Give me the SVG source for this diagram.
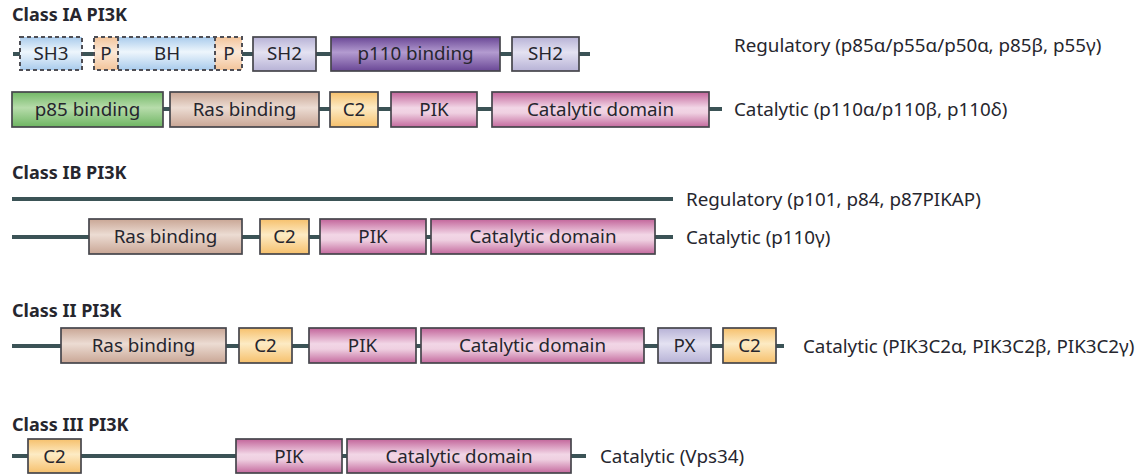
<svg xmlns="http://www.w3.org/2000/svg" width="1144" height="474" viewBox="0 0 1144 474">
<defs>
<linearGradient id="gPink" x1="0" y1="0" x2="0" y2="1"><stop offset="0" stop-color="#c2649a"/><stop offset="0.45" stop-color="#f2d6e6"/><stop offset="0.6" stop-color="#efd0e1"/><stop offset="1" stop-color="#c46a9e"/></linearGradient>
<linearGradient id="gTan" x1="0" y1="0" x2="0" y2="1"><stop offset="0" stop-color="#c9a695"/><stop offset="0.45" stop-color="#ecdcd3"/><stop offset="1" stop-color="#c9a695"/></linearGradient>
<linearGradient id="gGreen" x1="0" y1="0" x2="0" y2="1"><stop offset="0" stop-color="#72b866"/><stop offset="0.45" stop-color="#b7dcab"/><stop offset="1" stop-color="#6eb562"/></linearGradient>
<linearGradient id="gPurple" x1="0" y1="0" x2="0" y2="1"><stop offset="0" stop-color="#6a4796"/><stop offset="0.45" stop-color="#b39bd0"/><stop offset="1" stop-color="#6a4796"/></linearGradient>
<linearGradient id="gLav" x1="0" y1="0" x2="0" y2="1"><stop offset="0" stop-color="#b7b2d6"/><stop offset="0.45" stop-color="#e4e2f2"/><stop offset="1" stop-color="#b7b2d6"/></linearGradient>
<linearGradient id="gYel" x1="0" y1="0" x2="0" y2="1"><stop offset="0" stop-color="#f6c06c"/><stop offset="0.45" stop-color="#fdebc4"/><stop offset="1" stop-color="#f6c06c"/></linearGradient>
<linearGradient id="gBlue" x1="0" y1="0" x2="0" y2="1"><stop offset="0" stop-color="#a9cbec"/><stop offset="0.45" stop-color="#eef6fc"/><stop offset="1" stop-color="#a9cbec"/></linearGradient>
<linearGradient id="gOr" x1="0" y1="0" x2="0" y2="1"><stop offset="0" stop-color="#f2c49a"/><stop offset="0.45" stop-color="#fce9d8"/><stop offset="1" stop-color="#f2c49a"/></linearGradient>
</defs>
<style>
.bx{stroke:#46464c;stroke-width:1.7}
.dash{stroke:#4e4e55;stroke-width:2;stroke-dasharray:4 3}
.bb{stroke:#3b5356;stroke-width:4;fill:none}
.t{font-family:"Noto Sans","Liberation Sans",sans-serif;font-size:18.8px;fill:#26262e}
.c{text-anchor:middle}
.h{font-family:"Noto Sans","Liberation Sans",sans-serif;font-size:18px;font-weight:bold;fill:#26262e}
</style>
<rect width="1144" height="474" fill="#ffffff"/>
<g id="connectors">
<line class="bb" x1="13" y1="54" x2="590" y2="54"/>
<line class="bb" x1="12" y1="109" x2="722" y2="109"/>
<line class="bb" x1="12" y1="199" x2="673" y2="199"/>
<line class="bb" x1="12" y1="237" x2="673" y2="237"/>
<line class="bb" x1="12" y1="346" x2="784" y2="346"/>
<line class="bb" x1="12" y1="456" x2="586" y2="456"/>
</g>
<text class="h" x="12" y="21">Class IA PI3K</text>
<text class="h" x="12" y="179">Class IB PI3K</text>
<text class="h" x="12" y="317">Class II PI3K</text>
<text class="h" x="12" y="431">Class III PI3K</text>
<g id="ia-reg">
<g id="ia-sh3"><rect class="dash" x="20" y="37" width="62" height="33" fill="url(#gBlue)"/><text class="t c" x="51" y="60">SH3</text></g>
<g id="ia-p1"><rect x="94" y="37" width="24" height="33" fill="url(#gOr)"/></g>
<g id="ia-bh"><rect x="118" y="37" width="97" height="33" fill="url(#gBlue)"/><text class="t c" x="167" y="60">BH</text></g>
<g id="ia-p2"><rect x="215" y="37" width="27" height="33" fill="url(#gOr)"/></g>
<rect class="dash" x="94" y="37" width="148" height="33" fill="none"/>
<line class="dash" x1="118" y1="37" x2="118" y2="70"/>
<line class="dash" x1="215" y1="37" x2="215" y2="70"/>
<text class="t c" x="106" y="60">P</text>
<text class="t c" x="229" y="60">P</text>
<g id="ia-sh2a"><rect class="bx" x="253" y="37" width="63" height="34" fill="url(#gLav)"/><text class="t c" x="284.5" y="60">SH2</text></g>
<g id="ia-p110b"><rect class="bx" x="331" y="37" width="169" height="34" fill="url(#gPurple)"/><text class="t c" x="415.5" y="60">p110 binding</text></g>
<g id="ia-sh2b"><rect class="bx" x="512" y="37" width="67" height="34" fill="url(#gLav)"/><text class="t c" x="545.5" y="60">SH2</text></g>
<text class="t" x="734" y="52">Regulatory (p85α/p55α/p50α, p85β, p55γ)</text>
</g>
<g id="ia-cat">
<g id="ia-p85b"><rect class="bx" x="12" y="92" width="151" height="35" fill="url(#gGreen)"/><text class="t c" x="87.5" y="116">p85 binding</text></g>
<g id="ia-ras"><rect class="bx" x="170" y="92" width="149" height="35" fill="url(#gTan)"/><text class="t c" x="244.5" y="116">Ras binding</text></g>
<g id="ia-c2"><rect class="bx" x="330" y="92" width="48" height="35" fill="url(#gYel)"/><text class="t c" x="354" y="116">C2</text></g>
<g id="ia-pik"><rect class="bx" x="391" y="92" width="86" height="35" fill="url(#gPink)"/><text class="t c" x="434" y="116">PIK</text></g>
<g id="ia-catd"><rect class="bx" x="492" y="92" width="217" height="35" fill="url(#gPink)"/><text class="t c" x="600.5" y="116">Catalytic domain</text></g>
<text class="t" x="734" y="116">Catalytic (p110α/p110β, p110δ)</text>
</g>
<g id="ib">
<text class="t" x="686" y="206">Regulatory (p101, p84, p87PIKAP)</text>
<g id="ib-ras"><rect class="bx" x="89" y="219" width="153" height="35" fill="url(#gTan)"/><text class="t c" x="165.5" y="243">Ras binding</text></g>
<g id="ib-c2"><rect class="bx" x="260" y="219" width="49" height="35" fill="url(#gYel)"/><text class="t c" x="284.5" y="243">C2</text></g>
<g id="ib-pik"><rect class="bx" x="320" y="219" width="106" height="35" fill="url(#gPink)"/><text class="t c" x="373" y="243">PIK</text></g>
<g id="ib-catd"><rect class="bx" x="431" y="219" width="224" height="35" fill="url(#gPink)"/><text class="t c" x="543" y="243">Catalytic domain</text></g>
<text class="t" x="686" y="244">Catalytic (p110γ)</text>
</g>
<g id="ii">
<g id="ii-ras"><rect class="bx" x="61" y="328" width="165" height="35" fill="url(#gTan)"/><text class="t c" x="143.5" y="352">Ras binding</text></g>
<g id="ii-c2a"><rect class="bx" x="239" y="328" width="53" height="35" fill="url(#gYel)"/><text class="t c" x="265.5" y="352">C2</text></g>
<g id="ii-pik"><rect class="bx" x="309" y="328" width="107" height="35" fill="url(#gPink)"/><text class="t c" x="362.5" y="352">PIK</text></g>
<g id="ii-catd"><rect class="bx" x="421" y="328" width="223" height="35" fill="url(#gPink)"/><text class="t c" x="532.5" y="352">Catalytic domain</text></g>
<g id="ii-px"><rect class="bx" x="658" y="328" width="53" height="35" fill="url(#gLav)"/><text class="t c" x="684.5" y="352">PX</text></g>
<g id="ii-c2b"><rect class="bx" x="723" y="328" width="53" height="35" fill="url(#gYel)"/><text class="t c" x="749.5" y="352">C2</text></g>
<text class="t" x="803" y="353">Catalytic (PIK3C2α, PIK3C2β, PIK3C2γ)</text>
</g>
<g id="iii">
<g id="iii-c2"><rect class="bx" x="28" y="439" width="53" height="34" fill="url(#gYel)"/><text class="t c" x="54.5" y="463">C2</text></g>
<g id="iii-pik"><rect class="bx" x="236" y="439" width="106" height="34" fill="url(#gPink)"/><text class="t c" x="289" y="463">PIK</text></g>
<g id="iii-catd"><rect class="bx" x="347" y="439" width="224" height="34" fill="url(#gPink)"/><text class="t c" x="459" y="463">Catalytic domain</text></g>
<text class="t" x="600" y="463">Catalytic (Vps34)</text>
</g>
</svg>
